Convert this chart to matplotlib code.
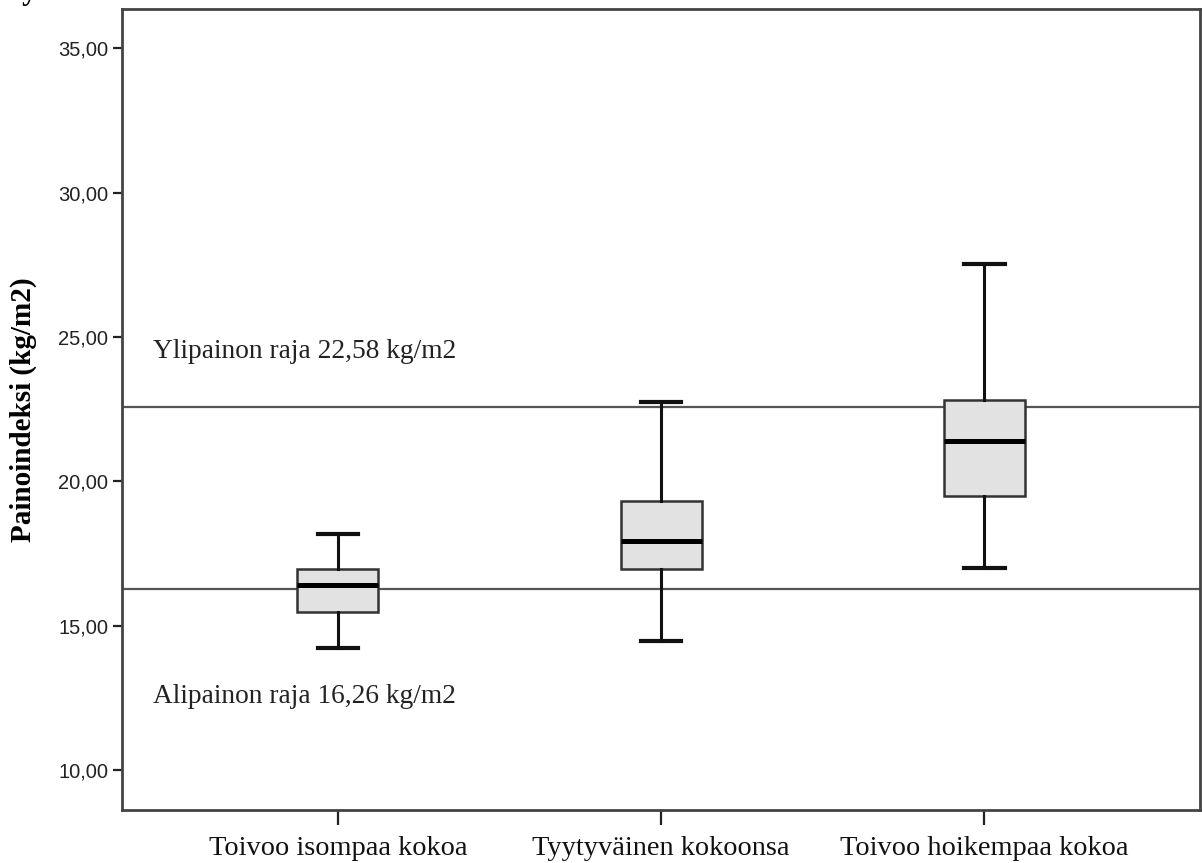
import matplotlib
matplotlib.use("Agg")
import matplotlib.pyplot as plt

categories = ["Toivoo isompaa kokoa", "Tyytyväinen kokoonsa", "Toivoo hoikempaa kokoa"]
whislo = [14.24, 14.48, 17.01]
q1 = [15.47, 16.96, 19.50]
med = [16.40, 17.95, 21.38]
q3 = [16.97, 19.33, 22.83]
whishi = [18.16, 22.74, 27.52]
ref_values = [22.58, 16.26]
ref_labels = ["Ylipainon raja 22,58 kg/m2", "Alipainon raja 16,26 kg/m2"]
ref_label_y = [24.51, 12.55]
yticks = [10, 15, 20, 25, 30, 35]
ytick_labels = ["10,00", "15,00", "20,00", "25,00", "30,00", "35,00"]

fig = plt.figure(figsize=(12.02, 8.63), dpi=100)
ax = fig.add_axes([0.1017, 0.0614, 0.8966, 0.9278])

stats = []
for i, c in enumerate(categories):
    stats.append(dict(label=c, whislo=whislo[i], q1=q1[i], med=med[i],
                      q3=q3[i], whishi=whishi[i], fliers=[]))

positions = list(range(1, len(categories) + 1))
ax.bxp(stats, positions=positions, widths=0.25, capwidths=0.125,
       showfliers=False, patch_artist=True,
       boxprops=dict(facecolor="#e2e2e2", edgecolor="#333333", linewidth=1.8),
       medianprops=dict(color="black", linewidth=3.6, solid_capstyle="butt"),
       whiskerprops=dict(color="#111111", linewidth=2.2),
       capprops=dict(color="#111111", linewidth=3.0))

for v, lab, ly in zip(ref_values, ref_labels, ref_label_y):
    ax.axhline(v, color="#555555", linewidth=1.6, zorder=1)
    ax.text(0.428, ly, lab, family="Liberation Serif", fontsize=19.7,
            color="#222222", va="center", ha="left")

ax.set_xlim(0.333, 3.667)
ax.set_ylim(8.615, 36.35)
ax.set_yticks(yticks)
ax.set_yticklabels(ytick_labels, family="Liberation Sans", fontsize=14.5, color="#222222")
ax.set_xticks(positions)
ax.set_xticklabels(categories, family="Liberation Serif", fontsize=20.4, color="#111111")
ax.tick_params(axis="y", direction="out", length=6.5, width=1.6, pad=3.5, color="#222222")
ax.tick_params(axis="x", direction="out", length=11, width=1.6, pad=8, color="#222222")
for s in ax.spines.values():
    s.set_color("#444444")
    s.set_linewidth(2.0)

ax.set_ylabel("Painoindeksi (kg/m2)", family="Liberation Serif", fontsize=21,
              fontweight="bold")
ax.yaxis.set_label_coords(-0.079, 0.5)

fig.text(0.004, 1.0 + 1.0 / 863, "Tytöt", family="Liberation Serif", fontsize=22,
         fontweight="bold", ha="left", va="baseline")

fig.savefig("out.png", dpi=100)
